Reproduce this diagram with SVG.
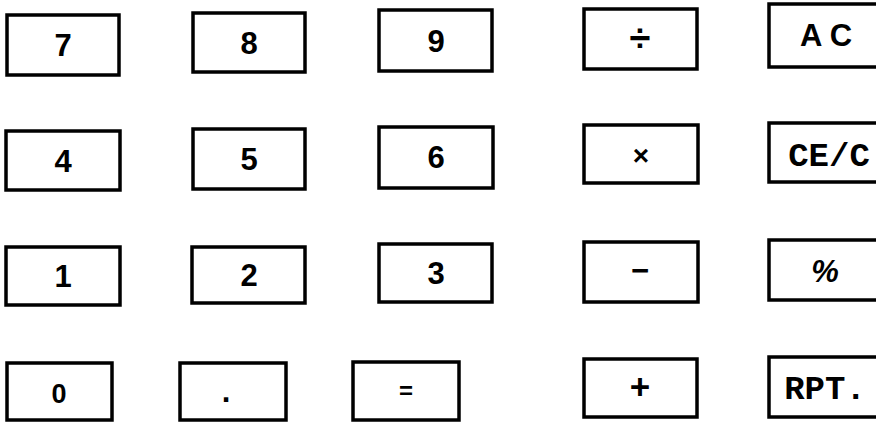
<svg xmlns="http://www.w3.org/2000/svg" width="876" height="424" viewBox="0 0 876 424">
<style>
.k rect{fill:#fff;stroke:#000;stroke-width:3.5}
.d{font-family:"Liberation Sans",Arial,sans-serif;font-weight:bold;font-size:31px;text-anchor:middle;fill:#000}
.m{font-family:"Liberation Mono","Courier New",monospace;font-weight:bold;font-size:34px;text-anchor:middle;fill:#000}
</style>
<rect width="876" height="424" fill="#fff"/>
<g id="key-7" class="k"><rect x="7" y="15" width="112" height="60"/><text class="d" x="63" y="56">7</text></g>
<g id="key-8" class="k"><rect x="193" y="13" width="112" height="59"/><text class="d" x="249" y="54">8</text></g>
<g id="key-9" class="k"><rect x="379" y="10" width="113" height="61"/><text class="d" x="436" y="52">9</text></g>
<g id="key-div" class="k"><rect x="584" y="9" width="113" height="60"/><text class="d" x="640" y="51" style="font-size:38px">÷</text></g>
<g id="key-ac" class="k"><rect x="769" y="4" width="120" height="63"/><text class="d" x="826" y="46">A C</text></g>

<g id="key-4" class="k"><rect x="6" y="131" width="114" height="59"/><text class="d" x="63" y="172">4</text></g>
<g id="key-5" class="k"><rect x="193" y="129" width="112" height="60"/><text class="d" x="249" y="170">5</text></g>
<g id="key-6" class="k"><rect x="379" y="127" width="114" height="61"/><text class="d" x="436" y="168">6</text></g>
<g id="key-mul" class="k"><rect x="584" y="125" width="114" height="58"/><text class="d" x="641" y="165" style="font-size:28px">×</text></g>
<g id="key-cec" class="k"><rect x="769" y="123" width="120" height="59"/><text class="m" x="829" y="166">CE/C</text></g>

<g id="key-1" class="k"><rect x="6" y="247" width="114" height="58"/><text class="d" x="63" y="287">1</text></g>
<g id="key-2" class="k"><rect x="192" y="247" width="113" height="56"/><text class="d" x="249" y="286">2</text></g>
<g id="key-3" class="k"><rect x="379" y="244" width="113" height="58"/><text class="d" x="436" y="284">3</text></g>
<g id="key-minus" class="k"><rect x="584" y="242" width="114" height="60"/><text class="d" x="640" y="281">−</text></g>
<g id="key-pct" class="k"><rect x="769" y="240" width="120" height="60"/><text class="d" x="825" y="282" style="font-style:italic">%</text></g>

<g id="key-0" class="k"><rect x="7" y="363" width="105" height="57"/><text class="d" x="59" y="403" style="font-size:27px">0</text></g>
<g id="key-dot" class="k"><rect x="180" y="363" width="106" height="57"/><text class="d" x="226" y="402">.</text></g>
<g id="key-eq" class="k"><rect x="353" y="362" width="106" height="58"/><text class="d" x="406" y="399" style="font-size:24px">=</text></g>
<g id="key-plus" class="k"><rect x="584" y="359" width="113" height="58"/><text class="d" x="640" y="399" style="font-size:35px">+</text></g>
<g id="key-rpt" class="k"><rect x="769" y="357" width="120" height="60"/><text class="m" x="825" y="399">RPT.</text></g>
<g id="connectors"/>
</svg>
